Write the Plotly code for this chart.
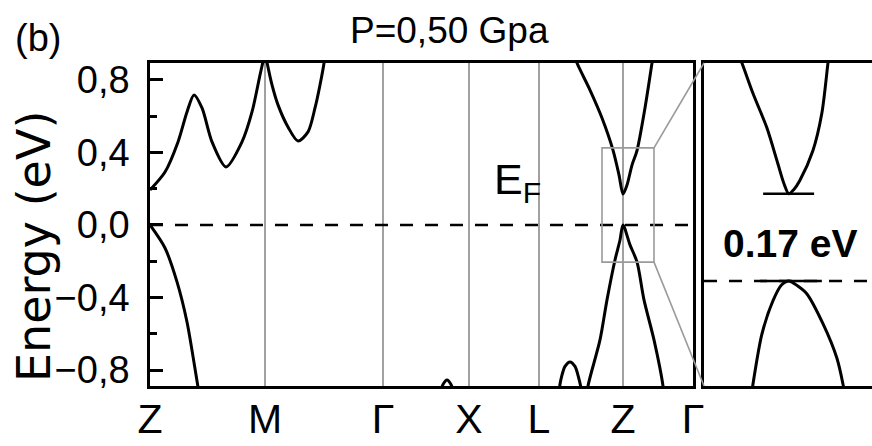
import plotly.graph_objects as go

W, H = 872, 446

# ---------------- data ----------------
K_TICKS = [0.0, 1.15, 2.33, 3.19, 3.89, 4.73, 5.43]
K_LABELS = ["Z", "M", "Γ", "X", "L", "Z", "Γ"]
E_TICKS = [-0.8, -0.4, 0.0, 0.4, 0.8]
E_LABELS = ["−0,8", "−0,4", "0,0", "0,4", "0,8"]
E_MINOR = [-0.6, -0.2, 0.2, 0.6]
E_RANGE = [-0.888, 0.893]

# conduction band Z -> M
cb1_k = [0.0, 0.15, 0.28, 0.37, 0.44, 0.52, 0.62, 0.76, 0.92, 1.02, 1.10, 1.15]
cb1_e = [0.193, 0.292, 0.458, 0.623, 0.717, 0.645, 0.458, 0.32, 0.458, 0.623, 0.827, 0.95]
# conduction band M -> Gamma
cb2_k = [1.15, 1.22, 1.28, 1.38, 1.48, 1.58, 1.65, 1.70, 1.74, 1.75]
cb2_e = [0.95, 0.772, 0.662, 0.54, 0.463, 0.513, 0.645, 0.772, 0.893, 0.95]
# valence band at first Z
vb1_k = [0.0, 0.15, 0.27, 0.37, 0.48, 0.50]
vb1_e = [0.0, -0.127, -0.314, -0.535, -0.893, -0.95]
# small pocket near X
vbx_k = [2.89, 2.93, 2.97, 3.01, 3.05]
vbx_e = [-0.95, -0.88, -0.855, -0.88, -0.95]
# pocket between L and Z
vbl_k = [4.08, 4.11, 4.15, 4.20, 4.25, 4.29, 4.33]
vbl_e = [-0.95, -0.85, -0.78, -0.755, -0.78, -0.85, -0.95]
# conduction band around second Z
cbz_k = [4.25, 4.27, 4.40, 4.52, 4.63, 4.69, 4.73, 4.77, 4.82, 4.87, 4.95, 5.02, 5.03]
cbz_e = [0.93, 0.893, 0.744, 0.59, 0.413, 0.276, 0.17, 0.22, 0.33, 0.41, 0.645, 0.893, 0.93]
# valence band around second Z
vbz_k = [4.37, 4.38, 4.50, 4.57, 4.65, 4.70, 4.73, 4.80, 4.87, 4.94, 5.04, 5.13, 5.14]
vbz_e = [-0.95, -0.888, -0.634, -0.413, -0.193, -0.083, 0.0, -0.11, -0.204, -0.413, -0.634, -0.888, -0.95]

# zoom window (box in main panel == inset range)
ZOOM_K = [4.52, 5.04]
ZOOM_E = [-0.205, 0.425]
INSET_K_RANGE = [4.52, 4.932]

# inset bands
icb_k = [4.600, 4.613, 4.640, 4.674, 4.701, 4.716, 4.728, 4.740, 4.755, 4.787, 4.809, 4.824, 4.828]
icb_e = [0.45, 0.425, 0.366, 0.299, 0.229, 0.19, 0.17, 0.178, 0.196, 0.254, 0.327, 0.425, 0.45]
ivb_k = [4.635, 4.640, 4.662, 4.689, 4.710, 4.728, 4.750, 4.772, 4.812, 4.846, 4.861, 4.867]
ivb_e = [-0.23, -0.202, -0.104, -0.039, -0.008, 0.0, -0.01, -0.025, -0.084, -0.151, -0.202, -0.23]
GAP_VALUE = 0.17
gap_top_k = [4.665, 4.790]
gap_bot_k = [4.657, 4.809]

# ---------------- layout geometry ----------------
MAIN_X = [150 / W, 693 / W]
INSET_X = [704 / W, 1.0]
PANEL_Y = [1 - 386 / H, 1 - 63 / H]

FONT = "Liberation Sans, Arial, sans-serif"

fig = go.Figure()
band_style = dict(color="black", width=3)


def add_band(k, e, xa="x", ya="y"):
    fig.add_trace(go.Scatter(x=k, y=e, mode="lines", line=dict(shape="spline", smoothing=0.8, **band_style),
                             xaxis=xa, yaxis=ya, showlegend=False, hoverinfo="skip", cliponaxis=True))


for k, e in [(cb1_k, cb1_e), (cb2_k, cb2_e), (vb1_k, vb1_e), (vbx_k, vbx_e), (vbl_k, vbl_e),
             (cbz_k, cbz_e), (vbz_k, vbz_e)]:
    add_band(k, e)

add_band(icb_k, icb_e, "x2", "y2")
add_band(ivb_k, ivb_e, "x2", "y2")
fig.add_trace(go.Scatter(x=gap_top_k, y=[GAP_VALUE, GAP_VALUE], mode="lines", line=dict(color="black", width=2.5),
                         xaxis="x2", yaxis="y2", showlegend=False, hoverinfo="skip"))
fig.add_trace(go.Scatter(x=gap_bot_k, y=[0, 0], mode="lines", line=dict(color="black", width=2.5),
                         xaxis="x2", yaxis="y2", showlegend=False, hoverinfo="skip"))

shapes = []
for kk in K_TICKS[1:-1]:
    shapes.append(dict(type="line", xref="x", yref="y domain", x0=kk, x1=kk, y0=0, y1=1,
                       line=dict(color="#8a8a8a", width=1.6), layer="below"))
shapes.append(dict(type="line", xref="x domain", yref="y", x0=0, x1=1, y0=0, y1=0,
                   line=dict(color="black", width=2.5, dash="13px,12px")))
shapes.append(dict(type="line", xref="x2 domain", yref="y2", x0=0, x1=1, y0=0, y1=0,
                   line=dict(color="black", width=2.5, dash="13px,12px")))
shapes.append(dict(type="rect", xref="x", yref="y", x0=ZOOM_K[0], x1=ZOOM_K[1], y0=ZOOM_E[0], y1=ZOOM_E[1],
                   line=dict(color="#9a9a9a", width=1.6)))


def main_to_paper(k, e):
    xp = MAIN_X[0] + (k - K_TICKS[0]) / (K_TICKS[-1] - K_TICKS[0]) * (MAIN_X[1] - MAIN_X[0])
    yp = PANEL_Y[0] + (e - E_RANGE[0]) / (E_RANGE[1] - E_RANGE[0]) * (PANEL_Y[1] - PANEL_Y[0])
    return xp, yp


def inset_e_to_paper(e):
    return PANEL_Y[0] + (e - ZOOM_E[0]) / (ZOOM_E[1] - ZOOM_E[0]) * (PANEL_Y[1] - PANEL_Y[0])


for ecorner in ZOOM_E:
    x0, y0 = main_to_paper(ZOOM_K[1], ecorner)
    shapes.append(dict(type="line", xref="paper", yref="paper", x0=x0, y0=y0, x1=INSET_X[0],
                       y1=inset_e_to_paper(ecorner), line=dict(color="#9a9a9a", width=1.6)))

annotations = [
    dict(text="P=0,50 Gpa", x=450 / W, y=1 - 31 / H, xref="paper", yref="paper", showarrow=False,
         font=dict(family=FONT, size=37, color="black"), xanchor="center", yanchor="middle"),
    dict(text="(b)", x=38 / W, y=1 - 38 / H, xref="paper", yref="paper", showarrow=False,
         font=dict(family=FONT, size=38, color="black"), xanchor="center", yanchor="middle"),
    dict(text="Energy (eV)", x=34 / W, y=1 - 247 / H, xref="paper", yref="paper", showarrow=False,
         textangle=-90, font=dict(family="DejaVu Sans", size=46, color="black"),
         xanchor="center", yanchor="middle"),
    dict(text="E<sub>F</sub>", x=492 / W, y=1 - 182 / H, xref="paper", yref="paper", showarrow=False,
         font=dict(family=FONT, size=43, color="black"), xanchor="left", yanchor="middle"),
    dict(text="<b>0.17 eV</b>", x=790 / W, y=1 - 243 / H, xref="paper", yref="paper", showarrow=False,
         font=dict(family=FONT, size=39, color="black"), xanchor="center", yanchor="middle"),
]

axis_line = dict(showline=True, linecolor="black", linewidth=2.5, showgrid=False, zeroline=False,
                 automargin=False)

fig.update_layout(
    width=W, height=H, margin=dict(l=0, r=0, t=0, b=0, autoexpand=False),
    paper_bgcolor="white", plot_bgcolor="white", showlegend=False,
    xaxis=dict(domain=MAIN_X, range=[K_TICKS[0], K_TICKS[-1]], mirror=True, tickmode="array",
               tickvals=K_TICKS, ticktext=K_LABELS, ticks="", ticklabelstandoff=-5,
               tickfont=dict(family=FONT, size=41, color="black"), anchor="y", **axis_line),
    yaxis=dict(domain=PANEL_Y, range=E_RANGE, mirror=True, tickmode="array", tickvals=E_TICKS,
               ticktext=E_LABELS, ticks="inside", ticklen=13, tickwidth=2.5, tickcolor="black",
               ticklabelstandoff=10,
               minor=dict(tickvals=E_MINOR, ticks="inside", ticklen=7, tickwidth=2.5, tickcolor="black"),
               tickfont=dict(family=FONT, size=38, color="black"), anchor="x", **axis_line),
    xaxis2=dict(domain=INSET_X, range=INSET_K_RANGE, mirror=True, showticklabels=False, ticks="",
                anchor="y2", **axis_line),
    yaxis2=dict(domain=PANEL_Y, range=ZOOM_E, mirror=False, showticklabels=False, ticks="",
                anchor="x2", **axis_line),
    shapes=shapes, annotations=annotations,
)

fig.write_html("out.html")
